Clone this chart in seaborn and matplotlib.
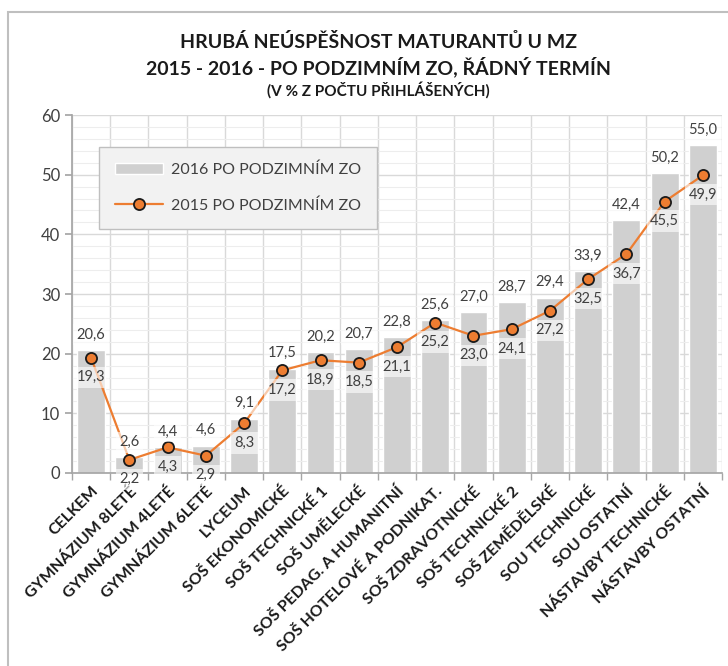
import numpy as np
import pandas as pd
import matplotlib
matplotlib.use("Agg")
import matplotlib.pyplot as plt
from matplotlib.patches import Rectangle
from matplotlib.ticker import MultipleLocator
import seaborn as sns

categories = [
    "CELKEM", "GYMNÁZIUM 8LETÉ", "GYMNÁZIUM 4LETÉ", "GYMNÁZIUM 6LETÉ", "LYCEUM",
    "SOŠ EKONOMICKÉ", "SOŠ TECHNICKÉ 1", "SOŠ UMĚLECKÉ", "SOŠ PEDAG. A HUMANITNÍ",
    "SOŠ HOTELOVÉ A PODNIKAT.", "SOŠ ZDRAVOTNICKÉ", "SOŠ TECHNICKÉ 2",
    "SOŠ ZEMĚDĚLSKÉ", "SOU TECHNICKÉ", "SOU OSTATNÍ", "NÁSTAVBY TECHNICKÉ",
    "NÁSTAVBY OSTATNÍ",
]
v2016 = [20.6, 2.6, 4.4, 4.6, 9.1, 17.5, 20.2, 20.7, 22.8, 25.6, 27.0, 28.7,
         29.4, 33.9, 42.4, 50.2, 55.0]
v2015 = [19.3, 2.2, 4.3, 2.9, 8.3, 17.2, 18.9, 18.5, 21.1, 25.2, 23.0, 24.1,
         27.2, 32.5, 36.7, 45.5, 49.9]
label_2016 = "2016 PO PODZIMNÍM ZO"
label_2015 = "2015 PO PODZIMNÍM ZO"

sns.set_theme(style="white")
plt.rcParams["font.family"] = ["Lato", "DejaVu Sans"]

df = pd.DataFrame({"kategorie": categories, "r2016": v2016, "r2015": v2015,
                   "pos": np.arange(len(categories))})

fig = plt.figure(figsize=(7.28, 6.66), dpi=100)
ax = fig.add_axes([0.0989, 0.2898, 0.8929, 0.5375])

# outer chart frame
fig.patches.append(Rectangle((0.011, -0.01), 0.999, 0.992, transform=fig.transFigure,
                             fill=False, edgecolor="#BFBFBF", linewidth=1.5))

bar_color = "#D0D0D0"
line_color = "#ED7D31"

sns.barplot(data=df, x="kategorie", y="r2016", color=bar_color, width=0.73,
            saturation=1, ax=ax, label=label_2016, zorder=2)
sns.lineplot(data=df, x="pos", y="r2015", color=line_color, linewidth=1.6,
             marker="o", markersize=8, markerfacecolor=line_color,
             markeredgecolor="#1a1a1a", markeredgewidth=1.3, ax=ax,
             label=label_2015, zorder=4)

ax.set_xlim(-0.5, len(categories) - 0.5)
ax.set_ylim(0, 60)
ax.yaxis.set_major_locator(MultipleLocator(10))
ax.yaxis.set_minor_locator(MultipleLocator(2))
ax.set_xticks(np.arange(len(categories)))
ax.set_xticks(np.arange(-0.5, len(categories), 1), minor=True)
ax.grid(which="major", axis="y", color="#D9D9D9", linewidth=1.0, zorder=0)
ax.grid(which="minor", axis="y", color="#EDEDED", linewidth=0.8, zorder=0)
ax.grid(which="minor", axis="x", color="#D9D9D9", linewidth=1.0, zorder=0)
ax.set_axisbelow(True)
for s in ["top", "right"]:
    ax.spines[s].set_visible(False)
ax.spines["left"].set_color("#A6A6A6")
ax.spines["bottom"].set_color("#A6A6A6")
ax.set_xlabel("")
ax.set_ylabel("")

ax.tick_params(axis="y", which="major", left=True, length=5, color="#A6A6A6",
               labelsize=12, labelcolor="#404040")
ax.tick_params(axis="y", which="minor", left=False)
ax.tick_params(axis="x", which="major", bottom=False, pad=2)
ax.tick_params(axis="x", which="minor", bottom=True, length=5, color="#A6A6A6")
ax.set_xticklabels(categories, rotation=45, ha="right", rotation_mode="anchor",
                   fontsize=11.5, fontweight="bold", color="#1a1a1a")

box = dict(boxstyle="square,pad=0.25", facecolor="white", edgecolor="none", alpha=0.6)
for i, (b, l) in enumerate(zip(v2016, v2015)):
    ax.annotate(f"{b:.1f}".replace(".", ","), (i, b), xytext=(0, 6),
                textcoords="offset points", ha="center", va="bottom",
                fontsize=10.5, color="#404040", bbox=box, zorder=5)
    ax.annotate(f"{l:.1f}".replace(".", ","), (i, l), xytext=(0, -9),
                textcoords="offset points", ha="center", va="top",
                fontsize=10.5, color="#404040", bbox=box, zorder=5)

handles, labels = ax.get_legend_handles_labels()
order = [labels.index(label_2016), labels.index(label_2015)]
leg = ax.legend([handles[k] for k in order], [labels[k] for k in order],
                loc="upper left", bbox_to_anchor=(0.0415, 0.911), borderaxespad=0,
                fontsize=11.5, frameon=True, fancybox=False, facecolor="#F2F2F2",
                edgecolor="#BFBFBF", framealpha=1, borderpad=1.0,
                labelspacing=1.3, handlelength=3.0, handletextpad=0.5)
leg.get_frame().set_linewidth(1.0)
for t in leg.get_texts():
    t.set_color("#404040")

fig.text(0.52, 0.937, "HRUBÁ NEÚSPĚŠNOST MATURANTŮ U MZ", ha="center",
         va="center", fontsize=14, fontweight="bold", color="#1a1a1a")
fig.text(0.52, 0.899, "2015 - 2016 - PO PODZIMNÍM ZO, ŘÁDNÝ TERMÍN",
         ha="center", va="center", fontsize=14, fontweight="bold", color="#1a1a1a")
fig.text(0.52, 0.865, "(V % Z POČTU PŘIHLÁŠENÝCH)", ha="center", va="center",
         fontsize=11, fontweight="bold", color="#1a1a1a")

fig.savefig("out.png", dpi=100)
